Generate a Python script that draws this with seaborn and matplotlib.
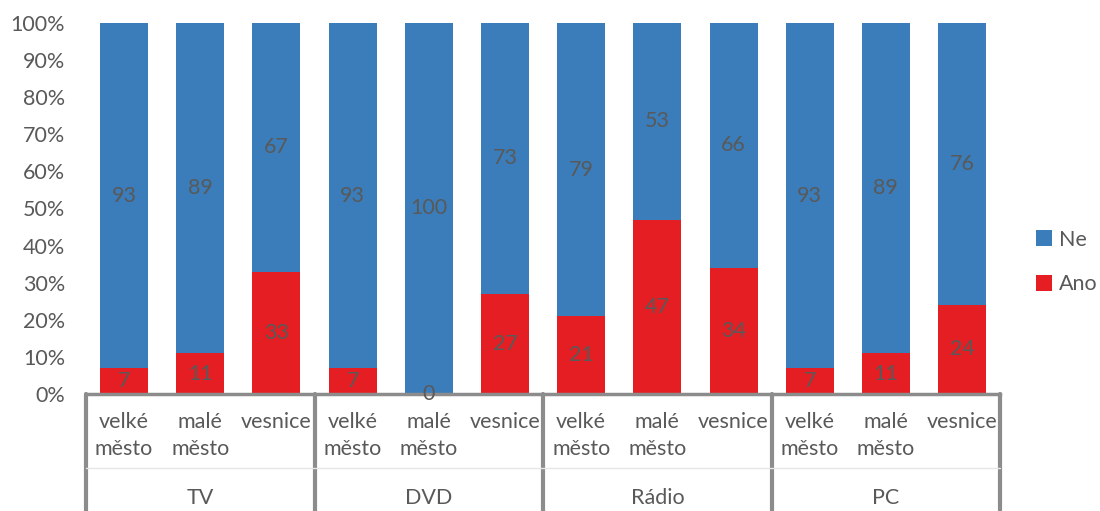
import numpy as np
import pandas as pd
import matplotlib.pyplot as plt
import seaborn as sns

groups = ["TV", "DVD", "Rádio", "PC"]
places = ["velké\nměsto", "malé\nměsto", "vesnice"]
ano = [7, 11, 33, 7, 0, 27, 21, 47, 34, 7, 11, 24]
ne = [93, 89, 67, 93, 100, 73, 79, 53, 66, 93, 89, 76]

BLUE = "#3A7DBA"
RED = "#E41E22"
TXT = "#595959"
LINE = "#8C8C8C"
FS = 15.5

sns.set_style("white")
plt.rcParams["font.family"] = ["Lato", "DejaVu Sans"]

df = pd.DataFrame({
    "pos": np.arange(len(ano)),
    "ano": ano,
    "ne": ne,
})
df["total"] = df["ano"] + df["ne"]

fig = plt.figure(figsize=(11, 5.11), dpi=100)
ax = fig.add_axes([0.0782, 0.229, 0.831, 0.726])

sns.barplot(data=df, x="pos", y="total", color=BLUE, width=0.63, linewidth=0,
            saturation=1, ax=ax, label="Ne", native_scale=True)
sns.barplot(data=df, x="pos", y="ano", color=RED, width=0.63, linewidth=0,
            saturation=1, ax=ax, label="Ano", native_scale=True)

# value labels
for i, (a, n) in enumerate(zip(ano, ne)):
    ax.text(i, a / 2, str(a), ha="center", va="center", fontsize=FS, color=TXT)
    ax.text(i, a + n / 2, str(n), ha="center", va="center", fontsize=FS, color=TXT)

ax.set_xlim(-0.5, len(ano) - 0.5)
ax.set_ylim(0, 100)
ax.set_yticks(range(0, 101, 10))
ax.set_yticklabels([f"{v}%" for v in range(0, 101, 10)], fontsize=FS, color=TXT)
ax.tick_params(axis="y", length=0, pad=15)
ax.set_xticks(range(len(ano)))
ax.set_xticklabels(places * len(groups), fontsize=FS, color=TXT, linespacing=1.45)
ax.tick_params(axis="x", length=0, pad=13)
ax.set_xlabel("")
ax.set_ylabel("")

for s in ["left", "right", "top"]:
    ax.spines[s].set_visible(False)
ax.spines["bottom"].set_color(LINE)
ax.spines["bottom"].set_linewidth(2.5)

# group separators and labels
trans = ax.get_xaxis_transform()
for k in range(len(groups) + 1):
    x = k * 3 - 0.5
    ax.plot([x, x], [0, -0.32], transform=trans, color=LINE, lw=3, clip_on=False)
ax.plot([-0.5, len(ano) - 0.5], [-0.2, -0.2], transform=trans,
        color="#E6E6E6", lw=1, clip_on=False)
for k, g in enumerate(groups):
    ax.text(k * 3 + 1, -0.28, g, transform=trans, ha="center", va="center",
            fontsize=FS, color=TXT)

handles, labels = ax.get_legend_handles_labels()
leg = ax.legend(handles, labels, loc="center left", bbox_to_anchor=(1.03, 0.356),
                frameon=False, fontsize=FS, handlelength=0.75, handleheight=0.75,
                handletextpad=0.3, labelspacing=1.15, labelcolor=TXT,
                borderaxespad=0)

fig.savefig("out.png", dpi=100)
